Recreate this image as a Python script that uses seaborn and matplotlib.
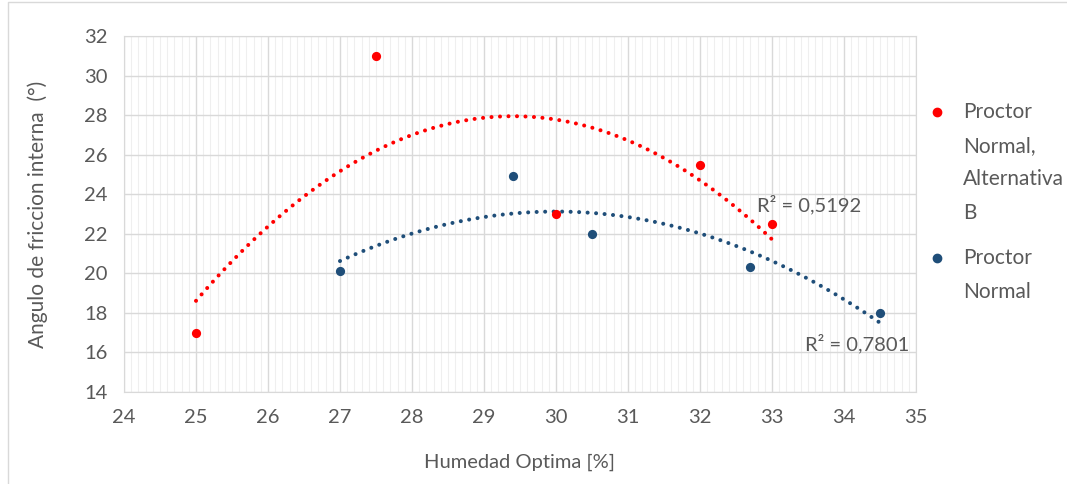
import numpy as np
import pandas as pd
import matplotlib.pyplot as plt
from matplotlib.lines import Line2D
from matplotlib.ticker import MultipleLocator
import seaborn as sns

# data
x_alt_b = [25, 27.5, 30, 32, 33]
y_alt_b = [17, 31, 23, 25.5, 22.5]
x_normal = [27, 29.4, 30.5, 32.7, 34.5]
y_normal = [20.1, 24.9, 22, 20.3, 18]
r2_alt_b = '0,5192'
r2_normal = '0,7801'
label_alt_b = 'Proctor\nNormal,\nAlternativa\nB'
label_normal = 'Proctor\nNormal'

red = '#FF0000'
blue = '#1F4E79'
grey = '#595959'

sns.set_style('white')
plt.rcParams['font.family'] = ['Lato', 'DejaVu Sans']

df_b = pd.DataFrame({'x': x_alt_b, 'y': y_alt_b})
df_n = pd.DataFrame({'x': x_normal, 'y': y_normal})

fig = plt.figure(figsize=(10.67, 4.84), dpi=100)
ax = fig.add_axes([124 / 1067, 1 - 392 / 484, (916 - 124) / 1067, (392 - 36) / 484])

trend = dict(lw=2.9, dashes=(0.01, 2.1), dash_capstyle='round', zorder=3)
sns.regplot(data=df_b, x='x', y='y', order=2, ci=None, truncate=True, ax=ax,
            scatter_kws=dict(s=44, color=red, alpha=1, linewidths=0, zorder=4),
            line_kws=dict(color=red, **trend))
sns.regplot(data=df_n, x='x', y='y', order=2, ci=None, truncate=True, ax=ax,
            scatter_kws=dict(s=44, color=blue, alpha=1, linewidths=0, zorder=4),
            line_kws=dict(color=blue, **trend))

ax.set_xlim(24, 35)
ax.set_ylim(14, 32)
ax.xaxis.set_major_locator(MultipleLocator(1))
ax.xaxis.set_minor_locator(MultipleLocator(0.1))
ax.yaxis.set_major_locator(MultipleLocator(2))
ax.grid(which='major', color='#D9D9D9', lw=1)
ax.grid(which='minor', axis='x', color='#EFEFEF', lw=0.8)
ax.set_axisbelow(True)
for s in ax.spines.values():
    s.set_color('#D9D9D9')
ax.tick_params(which='both', length=0, labelsize=14.5, labelcolor=grey)
ax.tick_params(axis='x', pad=12)
ax.tick_params(axis='y', pad=12)

ax.set_xlabel('Humedad Optima [%]', fontsize=14.5, color=grey, labelpad=20)
ax.set_ylabel('Angulo de friccion interna  (°)', fontsize=15, color=grey, labelpad=26)

ax.text(32.79, 23.5, 'R² = ' + r2_alt_b, fontsize=14.5, color=grey, va='center', ha='left')
ax.text(33.46, 16.46, 'R² = ' + r2_normal, fontsize=14.5, color=grey, va='center', ha='left')

# legend to the right of the plot
fig.add_artist(Line2D([937 / 1067], [1 - 112 / 484], marker='o', ms=6, color=red, lw=0))
fig.text(963 / 1067, 1 - 102 / 484, label_alt_b, fontsize=15, color=grey, va='top',
         linespacing=1.85)
fig.add_artist(Line2D([937 / 1067], [1 - 258 / 484], marker='o', ms=6, color=blue, lw=0))
fig.text(963 / 1067, 1 - 248 / 484, label_normal, fontsize=15, color=grey, va='top',
         linespacing=1.85)

# chart area border
fig.add_artist(Line2D([8 / 1067, 8 / 1067, 1.0], [0, 1 - 2 / 484, 1 - 2 / 484],
                      color='#D9D9D9', lw=1))

fig.savefig('out.png', dpi=100)
